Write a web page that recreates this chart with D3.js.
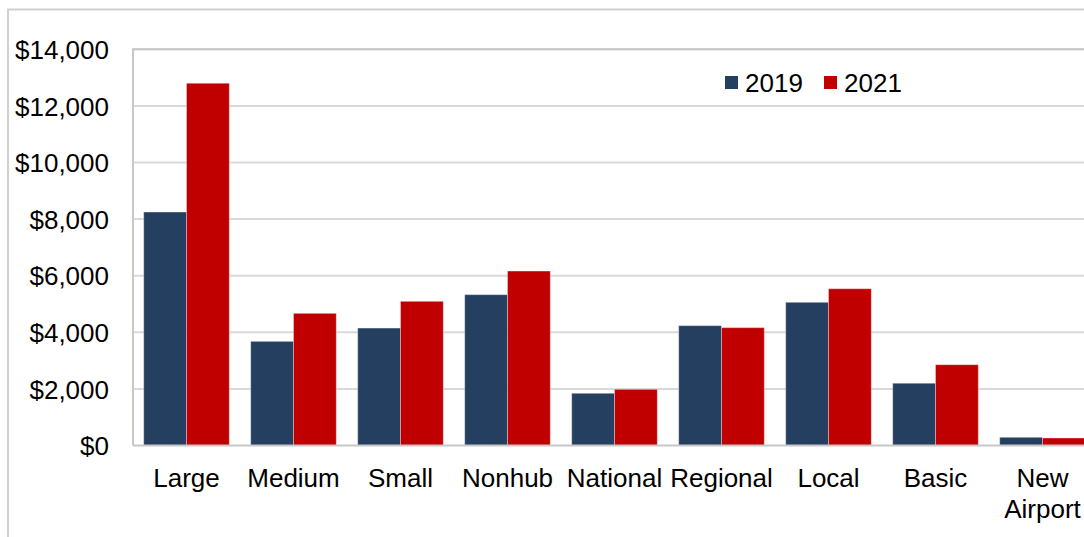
<!DOCTYPE html>
<html>
<head>
<meta charset="utf-8">
<script src="https://cdn.jsdelivr.net/npm/d3@7"></script>
<style>
  body { margin: 0; background: #fff; }
  text { font-family: "Liberation Sans", Arial, sans-serif; fill: #000; }
</style>
</head>
<body>
<div id="chart"></div>
<script>
// data
var categories = ["Large", "Medium", "Small", "Nonhub", "National", "Regional", "Local", "Basic", "New Airport"];
var seriesNames = ["2019", "2021"];
var values2019 = [8250, 3680, 4150, 5330, 1845, 4235, 5060, 2200, 290];
var values2021 = [12800, 4670, 5095, 6165, 1985, 4165, 5540, 2855, 265];
var yTicks = [0, 2000, 4000, 6000, 8000, 10000, 12000, 14000];

var svgWidth = 1084;
var svgHeight = 537;
var colors = {"2019": "#243F60", "2021": "#C00000"};

// plot area (runs off the right edge like the original)
var plot = {left: 133, top: 49.3, right: 1096, bottom: 445.5};

var svg = d3.select("#chart")
  .append("svg")
  .attr("width", svgWidth)
  .attr("height", svgHeight);

// outer chart border
svg.append("rect")
  .attr("x", 8).attr("y", 9.5)
  .attr("width", svgWidth + 20).attr("height", svgHeight + 20)
  .attr("fill", "none")
  .attr("stroke", "#d0d0d0")
  .attr("stroke-width", 2);

var x0 = d3.scaleBand()
  .domain(categories)
  .range([plot.left, plot.right])
  .paddingInner(0.2)
  .paddingOuter(0.1);

var x1 = d3.scaleBand()
  .domain(seriesNames)
  .range([0, x0.bandwidth()]);

var y = d3.scaleLinear()
  .domain([0, 14000])
  .range([plot.bottom, plot.top]);

// gridlines
svg.append("g")
  .selectAll("line")
  .data(yTicks.filter(function(d) { return d > 0; }))
  .enter()
  .append("line")
  .attr("x1", plot.left).attr("x2", svgWidth)
  .attr("y1", function(d) { return y(d); })
  .attr("y2", function(d) { return y(d); })
  .attr("stroke", "#d9d9d9")
  .attr("stroke-width", 2);

// plot area border (top + left)
svg.append("path")
  .attr("d", "M" + svgWidth + "," + plot.top + "H" + plot.left + "V" + plot.bottom)
  .attr("fill", "none")
  .attr("stroke", "#c8c8c8")
  .attr("stroke-width", 2);

// bars
var rows = categories.map(function(c, i) {
  return {cat: c, vals: [{key: "2019", v: values2019[i]}, {key: "2021", v: values2021[i]}]};
});

var groups = svg.append("g")
  .selectAll("g")
  .data(rows)
  .enter()
  .append("g")
  .attr("transform", function(d) { return "translate(" + x0(d.cat) + ",0)"; });

groups.selectAll("rect")
  .data(function(d) { return d.vals; })
  .enter()
  .append("rect")
  .attr("x", function(d) { return x1(d.key); })
  .attr("y", function(d) { return y(d.v); })
  .attr("width", x1.bandwidth())
  .attr("height", function(d) { return y(0) - y(d.v); })
  .attr("fill", function(d) { return colors[d.key]; })
  .attr("stroke", "rgba(255,255,255,0.35)")
  .attr("stroke-width", 1);

// y axis
var leftAxis = d3.axisLeft(y)
  .tickValues(yTicks)
  .tickSize(0)
  .tickPadding(24)
  .tickFormat(function(d) { return "$" + d3.format(",")(d); });

var yAxis = svg.append("g")
  .attr("transform", "translate(" + plot.left + ",0)")
  .call(leftAxis);
yAxis.select(".domain").remove();
yAxis.selectAll("text")
  .style("font-size", "26px")
  .attr("dy", "0.35em");

// x axis
var bottomAxis = d3.axisBottom(x0).tickSize(0).tickPadding(0);
var xAxis = svg.append("g")
  .attr("transform", "translate(0," + plot.bottom + ")")
  .call(bottomAxis);
xAxis.select(".domain")
  .attr("d", "M" + plot.left + ",0H" + svgWidth)
  .attr("stroke", "#c8c8c8")
  .attr("stroke-width", 2);
xAxis.selectAll("text").remove();
xAxis.selectAll(".tick").each(function(d) {
  var words = d.split(" ");
  var t = d3.select(this).append("text")
    .attr("text-anchor", "middle")
    .style("font-size", "26px");
  words.forEach(function(w, i) {
    t.append("tspan")
      .attr("x", 0)
      .attr("y", 41 + i * 31)
      .text(w);
  });
});

// legend
var legend = svg.append("g")
  .selectAll("g")
  .data(seriesNames)
  .enter()
  .append("g")
  .attr("transform", function(d, i) { return "translate(" + (725 + i * 99) + ",76)"; });

legend.append("rect")
  .attr("width", 13).attr("height", 13)
  .attr("fill", function(d) { return colors[d]; });

legend.append("text")
  .attr("x", 20).attr("y", 6.5)
  .attr("dy", "0.35em")
  .style("font-size", "26px")
  .text(function(d) { return d; });
</script>
</body>
</html>
